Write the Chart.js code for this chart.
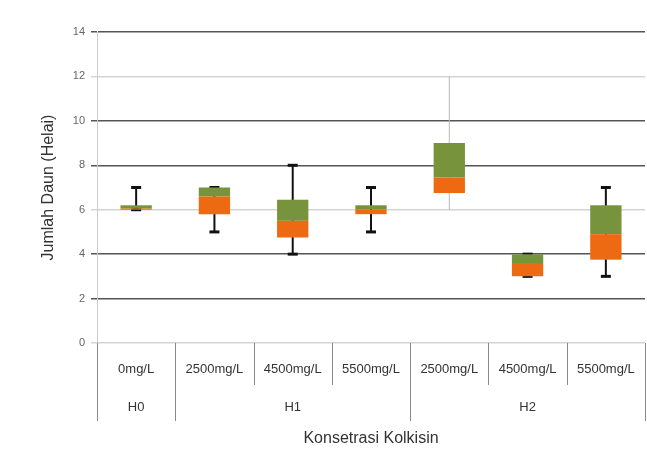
<!DOCTYPE html>
<html>
<head>
<meta charset="utf-8">
<script src="https://cdn.jsdelivr.net/npm/chart.js@4"></script>
<style>
  body { margin: 0; background: #fff; }
  #wrap { width: 647px; height: 468px; }
</style>
</head>
<body>
<div id="wrap"><canvas id="myChart" width="647" height="468"></canvas></div>
<script>
// data
var labels = ['0mg/L', '2500mg/L', '4500mg/L', '5500mg/L', '2500mg/L', '4500mg/L', '5500mg/L'];
var groups = ['H0', 'H1', 'H2'];
var groupSizes = [1, 3, 3];
var minVals = [6, 5, 4, 5, 6, 3, 3];
var q1Vals = [6, 5.8, 4.75, 5.8, 6.75, 3, 3.75];
var medVals = [6.05, 6.6, 5.5, 6.0, 7.45, 3.6, 4.9];
var q3Vals = [6.2, 7, 6.45, 6.2, 9, 4, 6.2];
var maxVals = [7, 7, 8, 7, 12, 4, 7];
var yTicks = [0, 2, 4, 6, 8, 10, 12, 14];

var lowerBox = labels.map(function (l, i) { return [q1Vals[i], medVals[i]]; });
var upperBox = labels.map(function (l, i) { return [medVals[i], q3Vals[i]]; });

// whiskers + caps, drawn behind the boxes
var whiskers = {
    id: 'whiskers',
    beforeDatasetsDraw: function (chart) {
        var c = chart.ctx, xs = chart.scales.x, ys = chart.scales.y;
        c.save();
        labels.forEach(function (l, i) {
            var x = xs.getPixelForValue(i);
            var light = (i === 4);
            c.strokeStyle = light ? '#b8b8b8' : '#111';
            c.lineWidth = light ? 1 : 2;
            c.beginPath();
            c.moveTo(x, ys.getPixelForValue(minVals[i]));
            c.lineTo(x, ys.getPixelForValue(maxVals[i]));
            c.stroke();
            if (!light) {
                c.lineWidth = 3;
                [minVals[i], maxVals[i]].forEach(function (v) {
                    var y = ys.getPixelForValue(v);
                    c.beginPath();
                    c.moveTo(x - 5, y);
                    c.lineTo(x + 5, y);
                    c.stroke();
                });
            }
        });
        c.restore();
    }
};

// second label row (H0/H1/H2) and the cell borders under the axis
var groupRow = {
    id: 'groupRow',
    afterDraw: function (chart) {
        var c = chart.ctx, xs = chart.scales.x, area = chart.chartArea;
        var step = xs.getPixelForValue(1) - xs.getPixelForValue(0);
        c.save();
        c.strokeStyle = '#888';
        c.lineWidth = 1;
        var start = 0;
        var edges = [0];
        groupSizes.forEach(function (n) { start += n; edges.push(start); });
        for (var i = 0; i <= labels.length; i++) {
            var x = Math.round(xs.getPixelForValue(i) - step / 2) + 0.5;
            var isGroup = edges.indexOf(i) >= 0;
            c.beginPath();
            c.moveTo(x, area.bottom);
            c.lineTo(x, area.bottom + (isGroup ? 78 : 42));
            c.stroke();
        }
        c.fillStyle = '#333';
        c.font = '13px "Liberation Sans", Arial, sans-serif';
        c.textAlign = 'center';
        c.textBaseline = 'middle';
        start = 0;
        groups.forEach(function (g, k) {
            var mid = start + (groupSizes[k] - 1) / 2;
            c.fillText(g, xs.getPixelForValue(mid), area.bottom + 64);
            start += groupSizes[k];
        });
        c.restore();
    }
};

var ctx = document.getElementById('myChart');
var myChart = new Chart(ctx, {
    type: 'bar',
    data: {
        labels: labels,
        datasets: [{
            label: 'Q1-Median',
            data: lowerBox,
            backgroundColor: '#ee6a12',
            borderWidth: 0
        }, {
            label: 'Median-Q3',
            data: upperBox,
            backgroundColor: '#77933c',
            borderWidth: 0
        }]
    },
    options: {
        responsive: false,
        animation: false,
        layout: { padding: { left: 39, right: 2, top: 32, bottom: 0 } },
        plugins: {
            legend: { display: false },
            tooltip: { enabled: false }
        },
        datasets: {
            bar: { grouped: false, barPercentage: 0.4, categoryPercentage: 1 }
        },
        scales: {
            x: {
                grid: { display: false },
                border: { display: false },
                ticks: {
                    color: '#333',
                    padding: 11,
                    maxRotation: 0,
                    autoSkip: false,
                    font: { size: 13, family: '"Liberation Sans", Arial, sans-serif' }
                },
                title: {
                    display: true,
                    text: 'Konsetrasi Kolkisin',
                    color: '#333',
                    padding: { top: 50, bottom: 20 },
                    font: { size: 16, family: '"Liberation Sans", Arial, sans-serif' }
                },
                afterFit: function (scale) { scale.height = 125; }
            },
            y: {
                min: 0,
                max: 14,
                afterBuildTicks: function (scale) {
                    scale.ticks = yTicks.map(function (v) { return { value: v }; });
                },
                grid: {
                    drawTicks: true,
                    tickLength: 6,
                    color: function (c) {
                        var v = c.tick.value;
                        return (v === 12 || v === 6 || v === 0) ? '#d4d4d4' : '#555';
                    },
                    lineWidth: 1.5
                },
                border: { color: '#ccc' },
                ticks: {
                    color: '#666',
                    padding: 6,
                    font: { size: 11, family: '"Liberation Sans", Arial, sans-serif' }
                },
                title: {
                    display: true,
                    text: 'Jumlah Daun (Helai)',
                    color: '#333',
                    padding: { top: 0, bottom: 6 },
                    font: { size: 16, family: '"Liberation Sans", Arial, sans-serif' }
                },
                afterFit: function (scale) { scale.width = 58; }
            }
        }
    },
    plugins: [whiskers, groupRow]
});
</script>
</body>
</html>
